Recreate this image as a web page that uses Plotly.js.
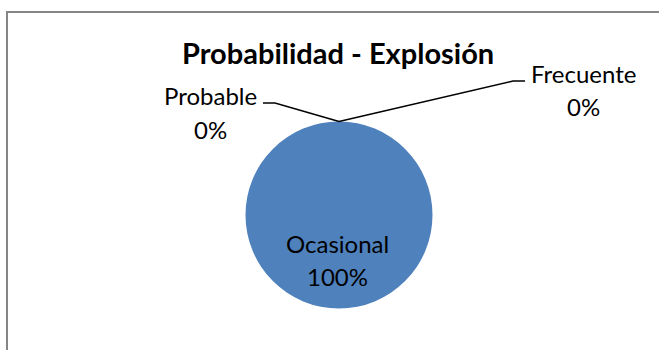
<!DOCTYPE html>
<html lang="es">
<head>
    <meta charset="UTF-8">
    <title>Probabilidad - Explosión</title>
    <script src="https://cdn.plot.ly/plotly-3.0.1.min.js"></script>
    <style>
        body { margin: 0; background: #ffffff; }
        #plot { width: 659px; height: 350px; }
    </style>
</head>
<body>
    <div id="plot"></div>
    <script>
        // datos
        const labels = ['Probable', 'Ocasional', 'Frecuente'];
        const values = [0, 100, 0];
        const colors = ['#C0504D', '#4F81BD', '#9BBB59'];
        const chartTitle = 'Probabilidad - Explosión';

        const W = 659, H = 350;
        const px = x => x / W;
        const py = y => 1 - y / H;
        const font = 'Lato, Carlito, Calibri, sans-serif';

        // circulo: centro (339, 215), radio ~93.5 px
        const cx = 339, cy = 215, r = 93.5;
        const dom = { x: [px(cx - r), px(cx + r)], y: [py(cy + r), py(cy - r)] };

        // posiciones de las etiquetas (pixeles) y codos de las lineas guia
        const labelPos = { 'Probable': [211, 96], 'Ocasional': [337, 243], 'Frecuente': [583, 73] };
        const elbows = { 'Probable': [[263, 103], [275, 103]], 'Frecuente': [[525, 81], [513, 81]] };
        const lineGap = 33;

        const total = values.reduce((a, b) => a + b, 0);
        const annotations = [{
            text: '<b>' + chartTitle + '</b>', xref: 'paper', yref: 'paper',
            x: px(338), y: py(52), xanchor: 'center', yanchor: 'middle', showarrow: false,
            font: { family: font, size: 29, color: '#000' }
        }];
        const shapes = [{
            type: 'rect', xref: 'paper', yref: 'paper',
            x0: px(7), x1: 1.1, y0: -0.1, y1: py(12),
            line: { color: '#868686', width: 2 }
        }];

        labels.forEach((lab, i) => {
            const p = labelPos[lab];
            const pct = Math.round(values[i] / total * 100) + '%';
            [lab, pct].forEach((t, k) => annotations.push({
                text: t, xref: 'paper', yref: 'paper',
                x: px(p[0]), y: py(p[1] + k * lineGap), xanchor: 'center', yanchor: 'middle',
                showarrow: false, font: { family: font, size: 24, color: '#000' }
            }));
            if (elbows[lab]) {
                const e = elbows[lab];
                const topX = (dom.x[0] + dom.x[1]) / 2, topY = dom.y[1];
                shapes.push({
                    type: 'path', xref: 'paper', yref: 'paper',
                    path: `M ${px(e[0][0])} ${py(e[0][1])} L ${px(e[1][0])} ${py(e[1][1])} L ${topX} ${topY}`,
                    line: { color: '#000', width: 1.5 }
                });
            }
        });

        const trace = {
            type: 'pie',
            labels: labels,
            values: values,
            sort: false,
            direction: 'clockwise',
            rotation: 0,
            textinfo: 'none',
            hoverinfo: 'skip',
            marker: { colors: colors, line: { width: 0 } },
            domain: dom,
            showlegend: false
        };

        const layout = {
            width: W, height: H,
            margin: { l: 0, r: 0, t: 0, b: 0 },
            paper_bgcolor: '#ffffff',
            showlegend: false,
            annotations: annotations,
            shapes: shapes
        };

        Plotly.newPlot('plot', [trace], layout, { displayModeBar: false, staticPlot: true });
    </script>
</body>
</html>
